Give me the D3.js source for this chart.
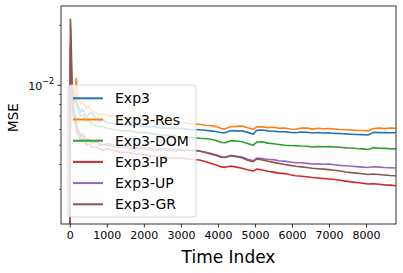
<!DOCTYPE html>
<html><head><meta charset="utf-8">
<script src="https://cdn.jsdelivr.net/npm/d3@7"></script>
<style>body{margin:0;background:#fff}svg{display:block;font-family:"DejaVu Sans",sans-serif}</style>
</head><body><svg id="c" width="403" height="273"></svg>
<script>
const timeIndex = [0,15,30,45,60,80,100,130,160,175,190,220,260,300,350,400,450,500,600,700,800,900,1000,1200,1400,1600,1800,2000,2250,2500,2750,3000,3250,
  3500,3650,3800,3950,4100,4200,4350,4500,4650,4800,4950,5050,5200,5350,5500,5650,5800,5950,6100,6250,6400,6550,6700,6850,7000,7150,7300,7450,7600,7750,7900,8050,8200,8350,8500,8650,8800];
const seriesNames = ["Exp3","Exp3-Res","Exp3-DOM","Exp3-IP","Exp3-UP","Exp3-GR"];
const exp3 = [0.0015,0.008,0.013,0.0098,0.0088,0.0085,0.0088,0.0082,0.0085,0.0090,0.0083,0.0078,0.0076,0.0073,0.0076,0.0072,0.0069,0.0071,0.0073,0.0068,0.0066,0.0067,0.0065,0.0064,0.0064,0.0063,0.0063,0.0062,0.0062,0.0061,0.0061,0.00605,0.0060,
  0.00598,0.00594,0.00590,0.00586,0.00577,0.00578,0.00592,0.00590,0.00591,0.00580,0.00568,0.00594,0.00596,0.00590,0.00588,0.00585,0.00584,0.00580,0.00578,0.00583,0.00581,0.00576,0.00579,0.00576,0.00577,0.00573,0.00572,0.00570,0.00568,0.00566,0.00565,0.00563,0.00580,0.00578,0.00579,0.00577,0.00578];
const exp3Res = [0.0016,0.006,0.012,0.0095,0.0092,0.0098,0.0094,0.0090,0.0100,0.0108,0.0098,0.0088,0.0085,0.0080,0.0083,0.0079,0.0076,0.0079,0.0074,0.0073,0.0071,0.0072,0.0070,0.0070,0.0069,0.0068,0.0068,0.0067,0.0066,0.0066,0.0065,0.0065,0.0064,
  0.00637,0.00630,0.00628,0.00620,0.00606,0.00604,0.00620,0.00622,0.00625,0.00612,0.00601,0.00618,0.00619,0.00613,0.00615,0.00608,0.00610,0.00603,0.00601,0.00609,0.00610,0.00602,0.00608,0.00605,0.00606,0.00603,0.00600,0.00598,0.00596,0.00594,0.00593,0.00590,0.00607,0.00609,0.00606,0.00610,0.00608];
const exp3Dom = [0.0017,0.007,0.011,0.0095,0.0093,0.0096,0.0090,0.0086,0.0082,0.0080,0.0078,0.0076,0.0072,0.0070,0.0071,0.0068,0.0066,0.0067,0.0064,0.0063,0.0062,0.0062,0.0061,0.0060,0.0059,0.0059,0.0058,0.0058,0.0057,0.0056,0.0056,0.0055,0.00548,
  0.00542,0.00540,0.00536,0.00528,0.00516,0.00514,0.00527,0.00525,0.00520,0.00510,0.00500,0.00518,0.00520,0.00512,0.00508,0.00504,0.00500,0.00498,0.00497,0.00495,0.00494,0.00490,0.00492,0.00491,0.00492,0.00490,0.00488,0.00485,0.00484,0.00481,0.00479,0.00476,0.00486,0.00483,0.00482,0.00480,0.00479];
const exp3Ip = [0.0014,0.016,0.014,0.011,0.0090,0.0075,0.0070,0.0066,0.0062,0.0060,0.0058,0.0057,0.0055,0.0053,0.0054,0.0052,0.0050,0.0051,0.0049,0.0049,0.0048,0.0047,0.0048,0.0047,0.0046,0.0046,0.0045,0.0045,0.0044,0.0044,0.0043,0.0043,0.00425,
  0.00421,0.00414,0.00406,0.00398,0.00389,0.00387,0.00393,0.00388,0.00383,0.00376,0.00371,0.00379,0.00375,0.00370,0.00366,0.00362,0.00360,0.00355,0.00351,0.00349,0.00347,0.00344,0.00342,0.00340,0.00338,0.00336,0.00333,0.00330,0.00327,0.00325,0.00322,0.00319,0.00320,0.00318,0.00316,0.00315,0.00313];
const exp3Up = [0.0016,0.014,0.016,0.012,0.0095,0.0080,0.0075,0.0070,0.0066,0.0064,0.0062,0.0060,0.0058,0.0056,0.0057,0.0055,0.0053,0.0054,0.0052,0.0053,0.0051,0.0050,0.0051,0.0050,0.0050,0.0049,0.0049,0.0049,0.0048,0.0048,0.0048,0.00477,0.00472,
  0.00468,0.00462,0.00456,0.00448,0.00437,0.00436,0.00444,0.00440,0.00436,0.00425,0.00417,0.00431,0.00428,0.00424,0.00423,0.00418,0.00416,0.00412,0.00408,0.00408,0.00405,0.00402,0.00403,0.00401,0.00402,0.00399,0.00396,0.00394,0.00392,0.00390,0.00388,0.00386,0.00390,0.00388,0.00386,0.00385,0.00384];
const exp3Gr = [0.0013,0.0215,0.019,0.014,0.010,0.0085,0.0078,0.0072,0.0068,0.0065,0.0063,0.0060,0.0058,0.0055,0.0056,0.0054,0.0052,0.0053,0.0051,0.0052,0.0050,0.0050,0.0050,0.0049,0.0049,0.0048,0.0048,0.0048,0.0047,0.0047,0.0047,0.00472,0.00470,
  0.00468,0.00460,0.00452,0.00444,0.00435,0.00434,0.00443,0.00438,0.00432,0.00420,0.00413,0.00426,0.00421,0.00415,0.00410,0.00405,0.00400,0.00396,0.00392,0.00389,0.00386,0.00383,0.00381,0.00379,0.00377,0.00374,0.00371,0.00367,0.00364,0.00362,0.00359,0.00356,0.00358,0.00356,0.00354,0.00352,0.00351];
const xTicks = [0,1000,2000,3000,4000,5000,6000,7000,8000];
const yMinorTicks = [0.003,0.004,0.005,0.006,0.007,0.008,0.009,0.02];
const colors = ["#1f77b4","#ff7f0e","#2ca02c","#d62728","#9467bd","#8c564b"];
const allSeries = [exp3, exp3Res, exp3Dom, exp3Ip, exp3Up, exp3Gr];

const L=61, T=6, W=335, H=218;
const svg = d3.select("#c");
const x = d3.scaleLinear().domain([-238, 8809]).range([L, L+W]);
const y = d3.scaleLog().domain([0.002009, 0.02503]).range([T+H, T]);

svg.append("defs").append("clipPath").attr("id","clip")
  .append("rect").attr("x",L).attr("y",T).attr("width",W).attr("height",H);

const line = d3.line().x((d,i)=>x(timeIndex[i])).y(d=>y(d));
const g = svg.append("g").attr("clip-path","url(#clip)");
allSeries.forEach((s,k)=>{
  g.append("path").datum(s).attr("d",line).attr("fill","none")
    .attr("stroke",colors[k]).attr("stroke-width",1.6).attr("stroke-linejoin","round");
});

// axes
const xAxis = d3.axisBottom(x).tickValues(xTicks).tickSize(3.5).tickPadding(3.5).tickFormat(d3.format("d"));
const gx = svg.append("g").attr("transform",`translate(0,${T+H})`).call(xAxis);
gx.select(".domain").remove();
gx.selectAll("line").attr("stroke","#000").attr("stroke-width",0.8);
gx.selectAll("text").attr("font-size",11).attr("fill","#000").attr("font-family","DejaVu Sans");

const gy = svg.append("g").attr("transform",`translate(${L},0)`);
gy.selectAll("line.minor").data(yMinorTicks).join("line")
  .attr("x1",-2).attr("x2",0).attr("y1",d=>y(d)).attr("y2",d=>y(d))
  .attr("stroke","#000").attr("stroke-width",0.6);
gy.append("line").attr("x1",-3.5).attr("x2",0).attr("y1",y(0.01)).attr("y2",y(0.01))
  .attr("stroke","#000").attr("stroke-width",0.8);
const lab = gy.append("text").attr("x",-7).attr("y",y(0.01)+4.5).attr("text-anchor","end")
  .attr("font-size",11).attr("fill","#000");
lab.append("tspan").text("10");
lab.append("tspan").attr("font-size",8).attr("dy",-5.5).text("\u22122");

// spines
svg.append("rect").attr("x",L).attr("y",T).attr("width",W).attr("height",H)
  .attr("fill","none").attr("stroke","#000").attr("stroke-width",0.8);

// labels
svg.append("text").attr("x",L+W/2).attr("y",263).attr("text-anchor","middle")
  .attr("font-size",17).attr("fill","#000").text("Time Index");
svg.append("text").attr("transform",`translate(18,117.5) rotate(-90)`)
  .attr("text-anchor","middle").attr("font-size",13.5).attr("fill","#000").text("MSE");

// legend
const lg = svg.append("g");
lg.append("rect").attr("x",68).attr("y",85).attr("width",128).attr("height",132).attr("rx",3)
  .attr("fill","#fff").attr("fill-opacity",0.8).attr("stroke","#ccc").attr("stroke-width",0.8);
seriesNames.forEach((n,k)=>{
  const cy = 98.3 + k*21.2;
  lg.append("line").attr("x1",73).attr("x2",103).attr("y1",cy).attr("y2",cy)
    .attr("stroke",colors[k]).attr("stroke-width",2);
  lg.append("text").attr("x",115).attr("y",cy).attr("dy","0.36em")
    .attr("font-size",14).attr("fill","#000").text(n);
});
</script></body></html>
